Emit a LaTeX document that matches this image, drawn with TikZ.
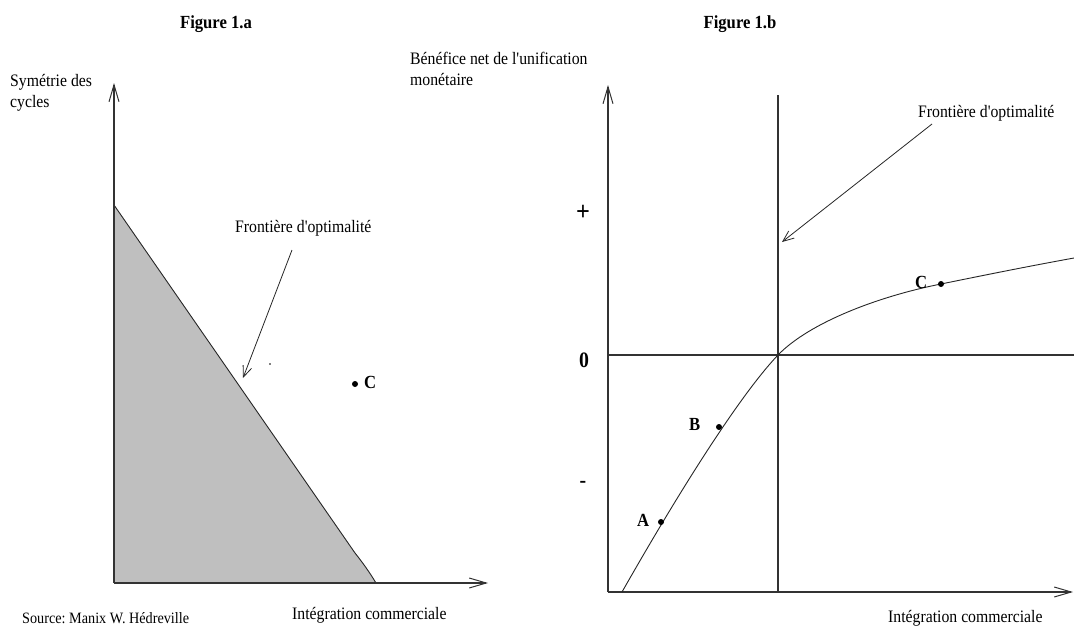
\documentclass[tikz,border=0pt]{standalone}
\usepackage{fontspec}
\setmainfont{Liberation Serif}[FakeStretch=0.9, Ligatures=TeXOff]
\usetikzlibrary{arrows.meta}
\frenchspacing
\begin{document}
\begin{tikzpicture}[x=1pt,y=-1pt,
  lbl/.style={font=\fontsize{17.5}{21}\selectfont, inner sep=0pt},
  srclbl/.style={font=\fontsize{15.8}{19}\selectfont, inner sep=0pt},
  ttl/.style={font=\bfseries\fontsize{18.5}{22}\selectfont, inner sep=0pt},
  ptlbl/.style={font=\bfseries\fontsize{18.5}{22}\selectfont, inner sep=0pt},
  signlbl/.style={font=\bfseries\fontsize{22}{26}\selectfont, inner sep=0pt},
  axis/.style={draw=black!80, line width=1.2pt},
  axisarrow/.style={axis, -{Straight Barb[length=17pt,width=10pt,line width=1pt]}},
  pointer/.style={draw=black!85, line width=0.8pt, -{Straight Barb[length=11pt,width=9pt,line width=0.8pt]}},
  curve/.style={draw=black!85, line width=0.9pt},
  dotpt/.style={circle, fill=black, inner sep=0pt, minimum size=6pt}
]
\useasboundingbox (0,0) rectangle (1074,627);

%% ---------------- Figure 1.a ----------------
\node[ttl, anchor=base] (ta) at (216,28) {Figure 1.a};
\node[lbl, anchor=north west, align=left] (ya) at (10,74) {Symétrie des\\cycles};

\coordinate (oa) at (114,583);
\coordinate (yta) at (114,83);
\coordinate (xta) at (488,583);
\coordinate (fa1) at (114,205);
\coordinate (fa2) at (355,553);
\coordinate (fa3) at (376,583);

\fill[black!25] (oa) -- (fa1) -- (fa2) .. controls (363,563) and (370,573) .. (fa3) -- cycle;
\draw[curve] (fa1) -- (fa2) .. controls (363,563) and (370,573) .. (fa3);

\draw[axisarrow] (oa) -- (yta);
\draw[axisarrow] (oa) -- (xta);

\node[lbl, anchor=base west] (fla) at (235,232) {Frontière d'optimalité};
\coordinate (pa1) at (292,250);
\coordinate (pa2) at (243,378);
\draw[pointer] (pa1) -- (pa2);

\fill (270,364) circle (0.8);

\node[dotpt] (ca) at (355,384) {};
\node[ptlbl, anchor=base west] (cal) at (364,388) {C};

\node[srclbl, anchor=base west] (src) at (22,623) {Source: Manix W. Hédreville};
\node[lbl, anchor=base west] (xa) at (292,619) {Intégration commerciale};

%% ---------------- Figure 1.b ----------------
\node[ttl, anchor=base] (tb) at (740,28) {Figure 1.b};
\node[lbl, anchor=north west, align=left] (yb) at (410,52) {Bénéfice net de l'unification\\monétaire};

\coordinate (ob) at (608,592);
\coordinate (ytb) at (608,85);
\coordinate (xtb) at (1073,592);
\coordinate (z0) at (608,355);
\coordinate (z1) at (1074,355);
\coordinate (v0) at (778,95);
\coordinate (v1) at (778,592);

\draw[axis] (z0) -- (z1);
\draw[axis] (v0) -- (v1);
\draw[axisarrow] (ob) -- (ytb);
\draw[axisarrow] (ob) -- (xtb);

\node[signlbl, font=\bfseries\fontsize{27}{30}\selectfont] (plus) at (583,213) {+};
\node[signlbl, anchor=base] (zero) at (584,367) {0};
\node[signlbl] (minus) at (583,484) {-};

\node[lbl, anchor=base west] (flb) at (918,117) {Frontière d'optimalité};
\coordinate (pb1) at (932,124);
\coordinate (pb2) at (782,242);
\draw[pointer] (pb1) -- (pb2);

\coordinate (c0) at (622,592);
\coordinate (cm) at (778,355);
\coordinate (cc) at (941,284);
\coordinate (ce) at (1074,258);
\draw[curve] (c0) .. controls (680,490) and (740,395) .. (cm)
  .. controls (810,322) and (880,296) .. (cc)
  .. controls (990,274) and (1030,266) .. (ce);

\node[dotpt] (A) at (661,522) {};
\node[dotpt] (B) at (719,427) {};
\node[dotpt] (Cb) at (cc) {};
\node[ptlbl, anchor=base west] (Al) at (637,526) {A};
\node[ptlbl, anchor=base west] (Bl) at (689,430) {B};
\node[ptlbl, anchor=base west] (Cl) at (915,288) {C};

\node[lbl, anchor=base west] (xb) at (888,622) {Intégration commerciale};
\end{tikzpicture}
\end{document}
